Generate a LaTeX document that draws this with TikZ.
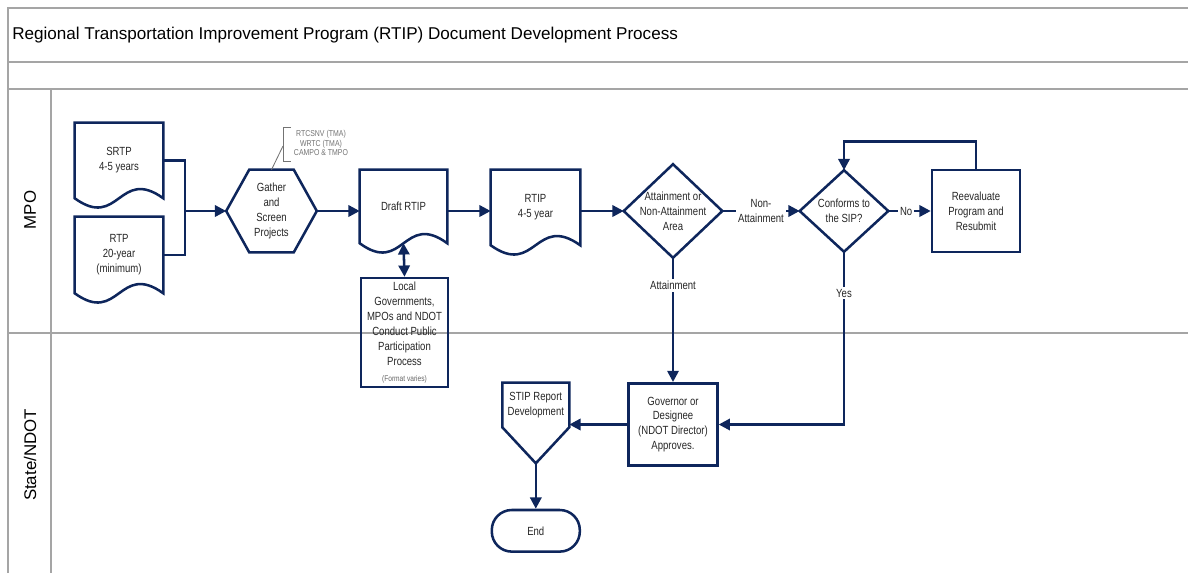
\documentclass[tikz,border=0pt]{standalone}
\usepackage{fontspec}
\setmainfont{Liberation Sans}
\newfontfamily\narrowfont{Liberation Sans}[FakeStretch=0.81]
\usetikzlibrary{arrows.meta,calc,positioning}

\definecolor{navy}{RGB}{14,38,92}
\definecolor{lanegray}{RGB}{165,165,165}

\tikzset{
  flowline/.style={draw=navy,line width=1.8pt},
  arrowline/.style={flowline,-{Triangle[length=8pt,width=8pt]}},
  twoarrow/.style={flowline,{Triangle[length=8pt,width=8pt]}-{Triangle[length=8pt,width=8pt]}},
  lane/.style={draw=lanegray,line width=0.9pt},
  boxtext/.style={font=\narrowfont\fontsize{8.4}{10.6}\selectfont,align=center,text=black!85,inner sep=0pt},
  procbox/.style={boxtext,rectangle,draw=navy,line width=1.8pt},
  linelabel/.style={boxtext,fill=white,inner sep=1.5pt},
  notetext/.style={font=\narrowfont\fontsize{6.1}{6.9}\selectfont,align=center,text=black!55,inner sep=0pt},
}

% outlines drawn round invisible rectangle nodes
\newcommand{\docframe}[1]{\draw[flowline] (#1.south west) -- (#1.north west) -- (#1.north east) -- (#1.south east)
  .. controls ($(#1.south)+(0,0.8cm)$) and ($(#1.south)+(0,-0.8cm)$) .. (#1.south west) -- cycle;}
\newcommand{\hexframe}[1]{\draw[flowline] (#1.west) -- ($(#1.north west)+(0.575cm,0)$) -- ($(#1.north east)+(-0.575cm,0)$)
  -- (#1.east) -- ($(#1.south east)+(-0.575cm,0)$) -- ($(#1.south west)+(0.575cm,0)$) -- cycle;}
\newcommand{\diamondframe}[1]{\draw[flowline] (#1.north) -- (#1.east) -- (#1.south) -- (#1.west) -- cycle;}

\begin{document}
\begin{tikzpicture}[x=0.025cm,y=-0.025cm]
  \useasboundingbox (0,0) rectangle (1188,573);

  % swimlane frame
  \draw[lane] (8,573) -- (8,8) -- (1188,8);
  \draw[lane] (8,62) -- (1188,62);
  \draw[lane] (8,89) -- (1188,89);
  \draw[lane] (51,89) -- (51,573);
  \draw[lane] (8,333) -- (1188,333);
  \node[anchor=west,font=\fontsize{12.15}{15}\selectfont,inner sep=0pt](title) at (12,35) {Regional Transportation Improvement Program (RTIP) Document Development Process};
  \node[rotate=90,font=\fontsize{12}{14}\selectfont](mpo) at (30,210) {MPO};
  \node[rotate=90,font=\fontsize{12}{14}\selectfont](state) at (30,455) {State/NDOT};

  % MPO lane
  \node[boxtext,minimum width=2.2cm,minimum height=1.875cm](srtp) at (119,160.5) {SRTP\\4-5 years};
  \node[boxtext,minimum width=2.2cm,minimum height=1.9cm](rtp) at (119,255) {RTP\\20-year\\(minimum)};
  \node[boxtext,minimum width=2.25cm,minimum height=2.05cm](gather) at (271.5,211) {Gather\\and\\Screen\\Projects};
  \node[boxtext,minimum width=2.175cm,minimum height=1.825cm](draft) at (403.5,206.5) {Draft RTIP};
  \node[procbox,minimum width=2.175cm,minimum height=2.725cm](local) at (404.5,332.5) {Local\\Governments,\\MPOs and NDOT\\Conduct Public\\Participation\\Process\\[1pt]{\narrowfont\fontsize{5.8}{7}\selectfont\color{black!60}(Format varies)}};
  \node[boxtext,minimum width=2.225cm,minimum height=1.875cm](rtip) at (535.5,207.5) {RTIP\\4-5 year};
  \node[boxtext,minimum width=2.45cm,minimum height=2.325cm](area) at (673,211) {Attainment or\\Non-Attainment\\Area};
  \node[boxtext,minimum width=2.2cm,minimum height=2.025cm](sip) at (844,211) {Conforms to\\the SIP?};
  \node[procbox,minimum width=2.2cm,minimum height=2.05cm](reeval) at (976,211) {Reevaluate\\Program and\\Resubmit};
  \docframe{srtp}
  \docframe{rtp}
  \hexframe{gather}
  \docframe{draft}
  \docframe{rtip}
  \diamondframe{area}
  \diamondframe{sip}

  % note on the gathering step
  \node[notetext](note) at (321,143) {RTCSNV (TMA)\\WRTC (TMA)\\CAMPO \& TMPO};
  \coordinate (notekink) at (283,146);
  \draw[draw=black!55,line width=0.6pt] (291,127) -- (283,127) -- (283,161) -- (291,161);
  \draw[draw=black!55,line width=0.6pt] (notekink) -- (gather.north);

  % State/NDOT lane
  \node[procbox,minimum width=2.22cm,minimum height=2.06cm](gov) at (673,424.5) {Governor or\\Designee\\(NDOT Director)\\Approves.};
  \node[boxtext,minimum width=1.66cm,minimum height=1.1cm](stip) at (535.8,405) {STIP Report\\Development};
  \draw[flowline] (stip.south west) -- (stip.north west) -- (stip.north east) -- (stip.south east)
    -- ($(stip.south)+(0,-0.9cm)$) coordinate (stiptip) -- cycle;
  \node[boxtext,draw=navy,line width=1.8pt,rounded corners=0.5cm,minimum width=2.2cm,minimum height=1.04cm](end) at (535.8,530.8) {End};

  % connectors
  \coordinate (join) at (185,211);
  \draw[flowline] (srtp.east) -| (join);
  \draw[flowline] (rtp.east) -| (join);
  \draw[arrowline] (join) -- (gather.west);
  \draw[arrowline] (gather.east) -- (gather.east -| draft.west);
  \draw[twoarrow] (draft.south) -- (local.north);
  \draw[arrowline] (draft.east |- join) -- (join -| rtip.west);
  \draw[arrowline] (rtip.east |- join) -- (area.west);
  \draw[arrowline] (area.east) -- node[linelabel](nonatt){Non-\\Attainment} (sip.west);
  \draw[arrowline] (sip.east) -- node[linelabel,pos=0.42](no){No} (reeval.west);
  \draw[arrowline] (reeval.north) -- ++(0,-27) -| (sip.north);
  \draw[arrowline] (area.south) -- node[linelabel,pos=0.22](att){Attainment} (gov.north);
  \draw[arrowline] (sip.south) |- node[linelabel,pos=0.12](yes){Yes} (gov.east);
  \draw[arrowline] (gov.west) -- (gov.west -| stip.east);
  \draw[arrowline] (stiptip) -- (end.north);
\end{tikzpicture}
\end{document}
